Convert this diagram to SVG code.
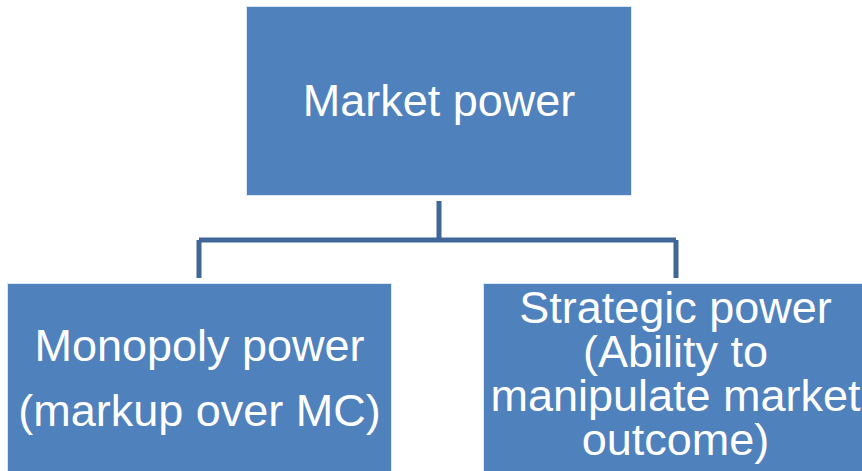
<svg xmlns="http://www.w3.org/2000/svg" width="862" height="471" viewBox="0 0 862 471">
<style>
.box{fill:#4F81BD;stroke:#DCE6F2;stroke-width:1}
.t{font-family:"Liberation Sans",Arial,sans-serif;font-size:45px;fill:#FFFFFF;text-anchor:middle}
.c{fill:none;stroke:#3F6797;stroke-width:5}
</style>
<rect width="862" height="471" fill="#FFFFFF"/>
<g id="connectors">
<path class="c" d="M439 201V240M199 240H676M199 240V278M676 240V278"/>
</g>
<g id="market-power">
<rect class="box" x="246.5" y="6.5" width="385" height="189"/>
<text class="t" x="439" y="116">Market power</text>
</g>
<g id="monopoly-power">
<rect class="box" x="7.5" y="283.5" width="384" height="200"/>
<text class="t" x="199.5" y="361">Monopoly power</text>
<text class="t" x="199.5" y="426">(markup over MC)</text>
</g>
<g id="strategic-power">
<rect class="box" x="483.5" y="283.5" width="384" height="200"/>
<text class="t" x="675.5" y="323">Strategic power</text>
<text class="t" x="675.5" y="367">(Ability to</text>
<text class="t" x="675.5" y="411">manipulate market</text>
<text class="t" x="675.5" y="455">outcome)</text>
</g>
</svg>
